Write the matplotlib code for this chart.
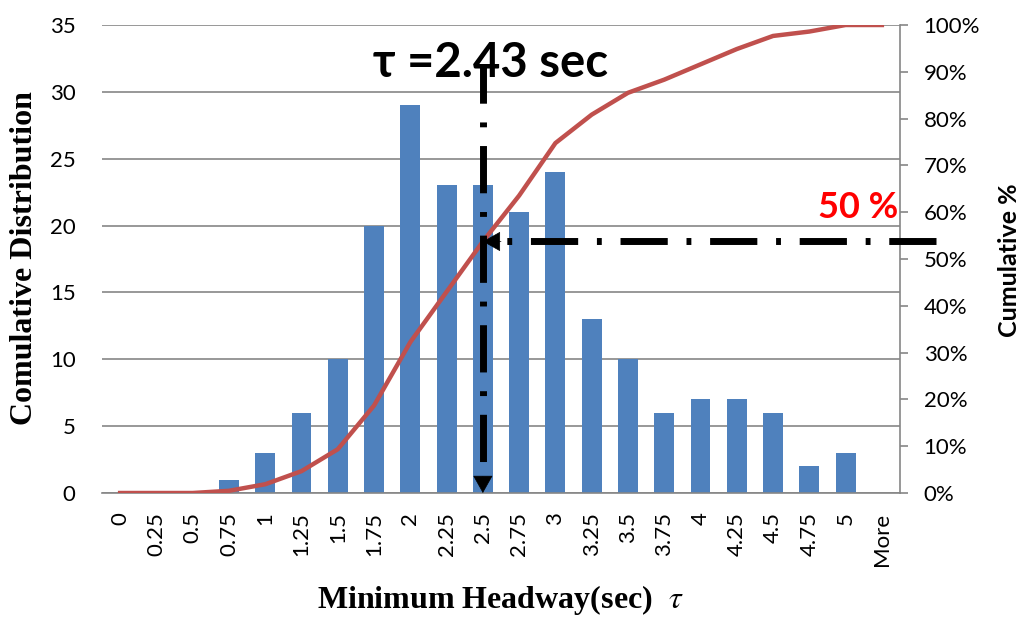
import matplotlib
matplotlib.use('Agg')
import matplotlib.pyplot as plt
import numpy as np

# dados
categorias = ['0', '0.25', '0.5', '0.75', '1', '1.25', '1.5', '1.75', '2', '2.25', '2.5',
              '2.75', '3', '3.25', '3.5', '3.75', '4', '4.25', '4.5', '4.75', '5', 'More']
frequencia = [0, 0, 0, 1, 3, 6, 10, 20, 29, 23, 23, 21, 24, 13, 10, 6, 7, 7, 6, 2, 3, 0]
cumulativo = [0, 0, 0, 0.47, 1.87, 4.67, 9.35, 18.69, 32.24, 42.99, 53.74, 63.55, 74.77,
              80.84, 85.51, 88.32, 91.59, 94.86, 97.66, 98.60, 100, 100]
ticks_esq = [0, 5, 10, 15, 20, 25, 30, 35]
ticks_dir = [0, 10, 20, 30, 40, 50, 60, 70, 80, 90, 100]
tau_texto = 'τ =2.43 sec'
pct_texto = '50 %'

AZUL = '#4F81BD'
VERMELHO = '#C0504D'
CINZA = '#868686'
SANS = ['Lato', 'DejaVu Sans']
SERIF = 'Liberation Serif'

plt.rcParams['mathtext.fontset'] = 'stix'

fig = plt.figure(figsize=(10.22, 6.17), dpi=100)
ax = fig.add_axes([102 / 1022, 1 - 493 / 617, 798 / 1022, 468 / 617])
ax2 = ax.twinx()

x = np.arange(len(categorias))

# barras e grade
ax.set_axisbelow(True)
ax.bar(x, frequencia, width=0.55, color=AZUL, zorder=2)
ax.set_ylim(0, 35)
ax.set_xlim(-0.5, len(categorias) - 0.5)
ax.set_yticks(ticks_esq)
ax.grid(axis='y', color=CINZA, linewidth=1.2, zorder=0)
ax.grid(axis='x', visible=False)

for lado in ['left', 'top', 'right']:
    ax.spines[lado].set_visible(False)
ax.spines['bottom'].set_color(CINZA)
ax.spines['bottom'].set_linewidth(1.2)

ax.set_xticks(x)
ax.set_xticklabels(categorias, rotation=90, fontsize=16, family=SANS)
ax.tick_params(axis='x', length=0, pad=14)
ax.tick_params(axis='y', length=0, pad=19, labelsize=16)
for t in ax.get_yticklabels():
    t.set_family(SANS)

# curva cumulativa
ax2.plot(x, cumulativo, color=VERMELHO, linewidth=3.2, zorder=3)
ax2.set_ylim(0, 100)
ax2.set_yticks(ticks_dir)
ax2.set_yticklabels([f'{v}%' for v in ticks_dir], fontsize=16, family=SANS)
ax2.tick_params(axis='y', length=6, width=1.2, color=CINZA, pad=11)
for lado in ['left', 'top', 'bottom']:
    ax2.spines[lado].set_visible(False)
ax2.spines['right'].set_color(CINZA)
ax2.spines['right'].set_linewidth(1.2)

# linhas de indicação (traço-ponto) com setas
seta = dict(arrowstyle='-|>,head_length=0.8,head_width=0.45', mutation_scale=14.5,
            color='black', lw=0.5, shrinkA=0, shrinkB=0)
x_seta = 10
y_seta = cumulativo[10]
ax2.plot([x_seta, x_seta], [91.5, 3.4], color='black', linewidth=5,
         linestyle=(1.3, (6.8, 2.7, 0.7, 2.7)), clip_on=False, zorder=5)
ax2.annotate('', xy=(x_seta, 0), xytext=(x_seta, 3.5), arrowprops=seta,
             annotation_clip=False, zorder=6)
ax2.plot([22.5, x_seta + 0.5], [y_seta, y_seta], color='black', linewidth=5,
         linestyle=(0, (6.8, 2.7, 0.7, 2.7)), clip_on=False, zorder=5)
ax2.annotate('', xy=(x_seta, y_seta), xytext=(x_seta + 0.5, y_seta), arrowprops=seta,
             annotation_clip=False, zorder=6)

ax2.text(10.2, 88.8, tau_texto, fontsize=34, fontweight='bold', family=SANS,
         ha='center', va='baseline', zorder=7)
ax2.text(21.45, 58.8, pct_texto, fontsize=26, fontweight='bold', family=SANS,
         color='red', ha='right', va='baseline', zorder=7)

# rótulos dos eixos
fig.text(25 / 1022, 1 - 258 / 617, 'Comulative Distribution', rotation=90,
         ha='center', va='center', fontsize=23, fontweight='bold', family=SERIF)
fig.text(1009 / 1022, 1 - 260 / 617, 'Cumulative %', rotation=90,
         ha='center', va='center', fontsize=18, fontweight='bold', family=SANS)
fig.text(500 / 1022, 1 - 600 / 617, 'Minimum Headway(sec)  $\\tau$',
         ha='center', va='center', fontsize=23, fontweight='bold', family=SERIF)

fig.savefig('out.png', dpi=100)
